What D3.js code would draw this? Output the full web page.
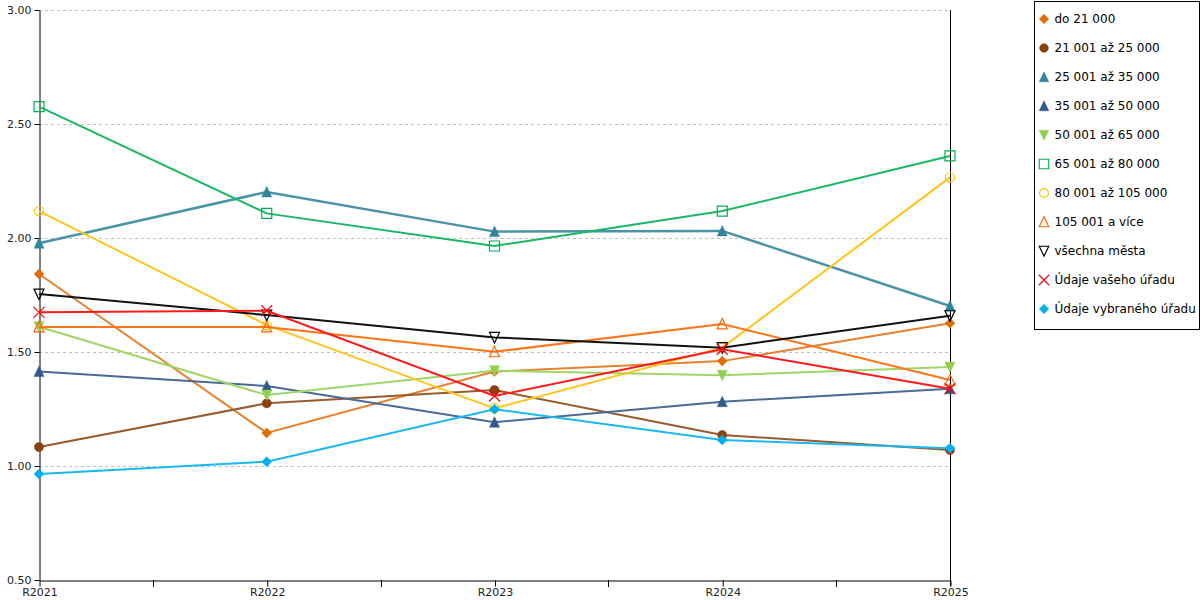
<!DOCTYPE html>
<html>
<head>
<meta charset="utf-8">
<script src="https://cdn.jsdelivr.net/npm/d3@7"></script>
<style>
  body { margin: 0; background: #fff; }
  svg { font-family: "DejaVu Sans", Verdana, sans-serif; }
</style>
</head>
<body>
<div class="chart-container"></div>
<script>
const width = 1200;
const height = 600;

// categories on the x axis
const years = ['R2021', 'R2022', 'R2023', 'R2024', 'R2025'];
const yTicks = [0.5, 1.0, 1.5, 2.0, 2.5, 3.0];

// series values
const do21 = [1.842, 1.145, 1.414, 1.460, 1.626];
const do25 = [1.083, 1.275, 1.333, 1.136, 1.070];
const do35 = [1.977, 2.202, 2.028, 2.031, 1.702];
const do50 = [1.414, 1.351, 1.192, 1.282, 1.339];
const do65 = [1.611, 1.311, 1.418, 1.398, 1.434];
const do80 = [2.576, 2.108, 1.965, 2.118, 2.360];
const do105 = [2.118, 1.618, 1.253, 1.519, 2.266];
const nad105 = [1.610, 1.610, 1.501, 1.623, 1.377];
const vsechna = [1.754, 1.662, 1.564, 1.519, 1.659];
const vasUrad = [1.674, 1.681, 1.307, 1.512, 1.339];
const vybranyUrad = [0.965, 1.019, 1.249, 1.114, 1.078];

const seriesNames = ['do 21 000', '21 001 až 25 000', '25 001 až 35 000', '35 001 až 50 000',
  '50 001 až 65 000', '65 001 až 80 000', '80 001 až 105 000', '105 001 a více',
  'všechna města', 'Údaje vašeho úřadu', 'Údaje vybraného úřadu'];
const seriesValues = [do21, do25, do35, do50, do65, do80, do105, nad105, vsechna, vasUrad, vybranyUrad];

// marker type and colour for every series
const styles = [
  {color: '#e36c09', line: '#e8812e', shape: 'diamond', fill: true},
  {color: '#8b400f', line: '#9a5a2a', shape: 'circle', fill: true},
  {color: '#31859c', line: '#4a93a8', shape: 'triangle', fill: true},
  {color: '#30598c', line: '#4a6a98', shape: 'triangle', fill: true},
  {color: '#92d050', line: '#9fd666', shape: 'triangleDown', fill: true},
  {color: '#00b050', line: '#19b862', shape: 'square', fill: false},
  {color: '#ffc000', line: '#ffc41a', shape: 'circle', fill: false},
  {color: '#ff6600', line: '#ff7417', shape: 'triangle', fill: false},
  {color: '#000000', line: '#111111', shape: 'triangleDown', fill: false},
  {color: '#ff0000', line: '#ff1a1a', shape: 'cross', fill: false},
  {color: '#00b0f0', line: '#1ab8f2', shape: 'diamond', fill: true}
];

const plot = {left: 39, right: 950, top: 10, bottom: 580};

const svg = d3.select('.chart-container')
  .append('svg')
  .attr('width', width)
  .attr('height', height);

const x = d3.scalePoint()
  .domain(years)
  .range([plot.left, plot.right]);

const y = d3.scaleLinear()
  .domain([0.5, 3.0])
  .range([plot.bottom, plot.top]);

// dashed horizontal grid
svg.append('g')
  .selectAll('line')
  .data(yTicks.filter(t => t > 0.5))
  .enter()
  .append('line')
  .attr('x1', plot.left)
  .attr('x2', plot.right)
  .attr('y1', d => Math.round(y(d)) + 0.5)
  .attr('y2', d => Math.round(y(d)) + 0.5)
  .attr('stroke', '#c0c0c0')
  .attr('stroke-dasharray', '3,3');

// y axis
const yAxis = svg.append('g')
  .attr('transform', `translate(${plot.left + 0.5},0)`)
  .call(d3.axisLeft(y).tickValues(yTicks).tickFormat(d3.format('.2f')).tickSize(5).tickSizeOuter(0));
yAxis.select('.domain').attr('stroke', '#000');
yAxis.selectAll('text').attr('font-size', 11).attr('fill', '#222').attr('font-family', '"DejaVu Sans", sans-serif');

// right border line of the plot
svg.append('line')
  .attr('x1', plot.right + 0.5).attr('x2', plot.right + 0.5)
  .attr('y1', plot.top).attr('y2', plot.bottom + 6)
  .attr('stroke', '#000');

// x axis with ticks at the categories and halfway between them
const xAxis = svg.append('g')
  .attr('transform', `translate(0.5,${plot.bottom + 0.5})`)
  .call(d3.axisBottom(x).tickSize(6).tickSizeOuter(0).tickPadding(2));
xAxis.select('.domain').attr('stroke', '#000');
xAxis.selectAll('text').attr('font-size', 11).attr('fill', '#222').attr('font-family', '"DejaVu Sans", sans-serif');

const mids = d3.pairs(years).map(([a, b]) => (x(a) + x(b)) / 2);
svg.append('g')
  .selectAll('line')
  .data(mids)
  .enter()
  .append('line')
  .attr('x1', d => Math.round(d) + 0.5)
  .attr('x2', d => Math.round(d) + 0.5)
  .attr('y1', plot.bottom)
  .attr('y2', plot.bottom + 7)
  .attr('stroke', '#000');

// marker paths centred at 0,0
function markerPath(shape) {
  switch (shape) {
    case 'diamond': return 'M0,-5L5,0L0,5L-5,0Z';
    case 'circle': return d3.arc()({innerRadius: 0, outerRadius: 4.6, startAngle: 0, endAngle: 2 * Math.PI});
    case 'triangle': return 'M0,-5.5L5,5L-5,5Z';
    case 'triangleDown': return 'M0,5.5L5,-5L-5,-5Z';
    case 'square': return 'M-5,-5H5V5H-5Z';
    case 'cross': return 'M-5.5,-5.5L5.5,5.5M5.5,-5.5L-5.5,5.5';
  }
}

function drawMarker(sel, st) {
  sel.append('path')
    .attr('d', markerPath(st.shape))
    .attr('fill', st.fill ? st.color : 'none')
    .attr('stroke', st.color)
    .attr('stroke-width', st.fill ? 0.5 : 1.2);
}

const line = d3.line()
  .x((d, i) => x(years[i]))
  .y(d => y(d));

seriesValues.forEach((vals, k) => {
  const st = styles[k];
  const g = svg.append('g').attr('class', 'series');
  g.append('path')
    .datum(vals)
    .attr('d', line)
    .attr('fill', 'none')
    .attr('stroke', st.line)
    .attr('stroke-width', k === 2 ? 2.5 : 2);
  g.selectAll('.pt')
    .data(vals)
    .enter()
    .append('g')
    .attr('class', 'pt')
    .attr('transform', (d, i) => `translate(${x(years[i])},${y(d)})`)
    .each(function() { drawMarker(d3.select(this), st); });
});

// legend
const legend = svg.append('g').attr('transform', 'translate(1034.5,1.5)');
legend.append('rect')
  .attr('width', 165)
  .attr('height', 328)
  .attr('fill', '#fff')
  .attr('stroke', '#000');

const item = legend.selectAll('.item')
  .data(seriesNames)
  .enter()
  .append('g')
  .attr('class', 'item')
  .attr('transform', (d, i) => `translate(0,${17.5 + i * 29})`);

item.append('g')
  .attr('transform', 'translate(9.5,0) scale(0.95)')
  .each(function(d, i) { drawMarker(d3.select(this), styles[i]); });

item.append('text')
  .attr('x', 20)
  .attr('dy', '0.35em')
  .attr('font-size', 12)
  .attr('fill', '#000')
  .text(d => d);
</script>
</body>
</html>
